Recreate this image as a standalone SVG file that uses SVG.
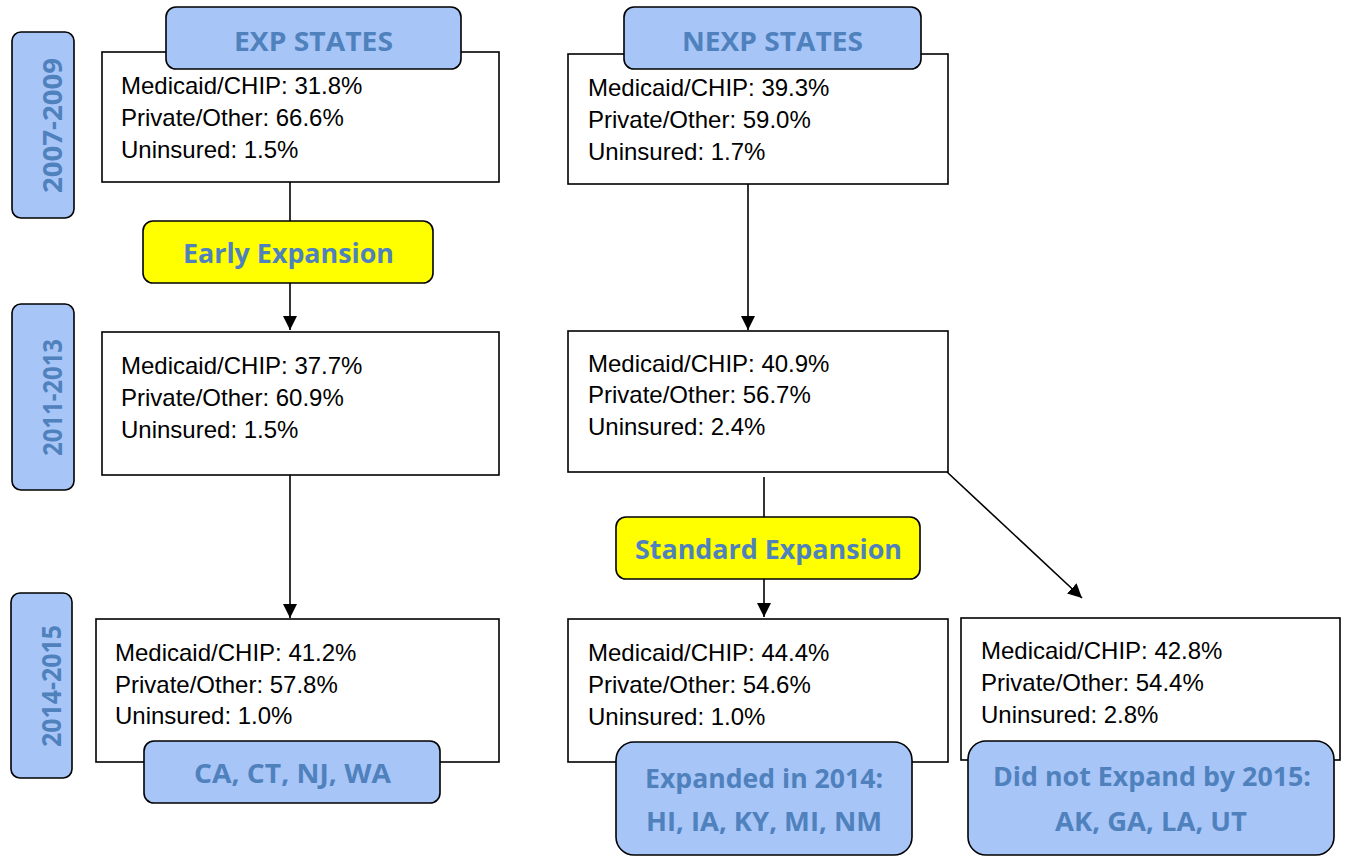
<svg xmlns="http://www.w3.org/2000/svg" width="1346" height="857" viewBox="0 0 1346 857">
<defs>
<style>
.box{fill:#fff;stroke:#000;stroke-width:1.6}
.blue{fill:#a8c5f8;stroke:#000;stroke-width:1.6}
.yel{fill:#ffff00;stroke:#000;stroke-width:1.6}
.t{font-family:"Liberation Sans",Arial,sans-serif;font-size:24px;fill:#000}
.h{font-family:"Open Sans","Noto Sans",sans-serif;font-weight:bold;fill:#4f81bd;text-anchor:middle}
.c{stroke:#000;stroke-width:1.6;fill:none}
</style>
<marker id="ah" viewBox="0 0 10 10" refX="10" refY="5" markerWidth="14" markerHeight="14" markerUnits="userSpaceOnUse" orient="auto">
<path d="M0,0 L10,5 L0,10 z" fill="#000"/>
</marker>
</defs>

<g id="connectors">
<line class="c" x1="290" y1="182" x2="290" y2="221"/>
<line class="c" x1="290" y1="283" x2="290" y2="330" marker-end="url(#ah)"/>
<line class="c" x1="290" y1="475" x2="290" y2="618" marker-end="url(#ah)"/>
<line class="c" x1="748" y1="184" x2="748" y2="330" marker-end="url(#ah)"/>
<line class="c" x1="764" y1="477" x2="764" y2="517"/>
<line class="c" x1="764" y1="579" x2="764" y2="617" marker-end="url(#ah)"/>
<line class="c" x1="947" y1="472" x2="1082" y2="598" marker-end="url(#ah)"/>
</g>

<g id="year-2007">
<rect class="blue" x="12" y="32" width="62" height="186" rx="9"/>
<text class="h" font-size="27" transform="translate(62,125.5) rotate(-90)" textLength="135" lengthAdjust="spacingAndGlyphs">2007-2009</text>
</g>
<g id="year-2011">
<rect class="blue" x="12" y="304" width="62" height="186" rx="9"/>
<text class="h" font-size="27" transform="translate(62,397.5) rotate(-90)" textLength="117" lengthAdjust="spacingAndGlyphs">2011-2013</text>
</g>
<g id="year-2014">
<rect class="blue" x="11" y="593" width="61" height="185" rx="9"/>
<text class="h" font-size="27" transform="translate(61,686) rotate(-90)" textLength="122" lengthAdjust="spacingAndGlyphs">2014-2015</text>
</g>

<g id="exp-2007">
<rect class="box" x="102" y="52" width="397" height="130"/>
<text class="t" x="121" y="94">Medicaid/CHIP: 31.8%</text>
<text class="t" x="121" y="126">Private/Other: 66.6%</text>
<text class="t" x="121" y="158">Uninsured: 1.5%</text>
</g>
<g id="exp-header">
<rect class="blue" x="166" y="7" width="295" height="62" rx="10"/>
<text class="h" font-size="27" x="313.5" y="50.5" textLength="159" lengthAdjust="spacingAndGlyphs">EXP STATES</text>
</g>

<g id="nexp-2007">
<rect class="box" x="568" y="54" width="380" height="130"/>
<text class="t" x="588" y="96">Medicaid/CHIP: 39.3%</text>
<text class="t" x="588" y="128">Private/Other: 59.0%</text>
<text class="t" x="588" y="160">Uninsured: 1.7%</text>
</g>
<g id="nexp-header">
<rect class="blue" x="624" y="7" width="297" height="62" rx="10"/>
<text class="h" font-size="27" x="772.5" y="50.5" textLength="181" lengthAdjust="spacingAndGlyphs">NEXP STATES</text>
</g>

<g id="early-expansion">
<rect class="yel" x="143" y="221" width="290" height="62" rx="10"/>
<text class="h" font-size="26" x="288.5" y="263" textLength="211" lengthAdjust="spacingAndGlyphs">Early Expansion</text>
</g>

<g id="exp-2011">
<rect class="box" x="102" y="332" width="397" height="143"/>
<text class="t" x="121" y="374">Medicaid/CHIP: 37.7%</text>
<text class="t" x="121" y="406">Private/Other: 60.9%</text>
<text class="t" x="121" y="438">Uninsured: 1.5%</text>
</g>

<g id="nexp-2011">
<rect class="box" x="568" y="331" width="380" height="141"/>
<text class="t" x="588" y="372">Medicaid/CHIP: 40.9%</text>
<text class="t" x="588" y="403">Private/Other: 56.7%</text>
<text class="t" x="588" y="435">Uninsured: 2.4%</text>
</g>

<g id="standard-expansion">
<rect class="yel" x="616" y="517" width="304" height="62" rx="10"/>
<text class="h" font-size="26" x="768.5" y="559" textLength="267" lengthAdjust="spacingAndGlyphs">Standard Expansion</text>
</g>

<g id="exp-2014">
<rect class="box" x="96" y="619" width="403" height="143"/>
<text class="t" x="115" y="661">Medicaid/CHIP: 41.2%</text>
<text class="t" x="115" y="693">Private/Other: 57.8%</text>
<text class="t" x="115" y="724">Uninsured: 1.0%</text>
</g>
<g id="exp-states-label">
<rect class="blue" x="144" y="741" width="296" height="62" rx="10"/>
<text class="h" font-size="27" x="292.5" y="783" textLength="197" lengthAdjust="spacingAndGlyphs">CA, CT, NJ, WA</text>
</g>

<g id="nexp-2014-expanded">
<rect class="box" x="568" y="619" width="380" height="143"/>
<text class="t" x="588" y="661">Medicaid/CHIP: 44.4%</text>
<text class="t" x="588" y="693">Private/Other: 54.6%</text>
<text class="t" x="588" y="725">Uninsured: 1.0%</text>
</g>
<g id="expanded-label">
<rect class="blue" x="616" y="742" width="296" height="113" rx="18"/>
<text class="h" font-size="27" x="764" y="788" textLength="238" lengthAdjust="spacingAndGlyphs">Expanded in 2014:</text>
<text class="h" font-size="27" x="764" y="831" textLength="236" lengthAdjust="spacingAndGlyphs">HI, IA, KY, MI, NM</text>
</g>

<g id="nexp-2014-not">
<rect class="box" x="961" y="618" width="379" height="142"/>
<text class="t" x="981" y="659">Medicaid/CHIP: 42.8%</text>
<text class="t" x="981" y="691">Private/Other: 54.4%</text>
<text class="t" x="981" y="723">Uninsured: 2.8%</text>
</g>
<g id="not-expanded-label">
<rect class="blue" x="968" y="741" width="366" height="114" rx="18"/>
<text class="h" font-size="27" x="1152" y="786" textLength="318" lengthAdjust="spacingAndGlyphs">Did not Expand by 2015:</text>
<text class="h" font-size="27" x="1151" y="831" textLength="192" lengthAdjust="spacingAndGlyphs">AK, GA, LA, UT</text>
</g>
</svg>
